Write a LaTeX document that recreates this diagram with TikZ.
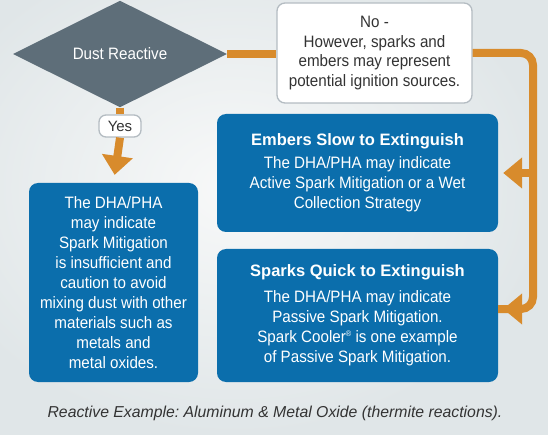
\documentclass[tikz,border=0pt]{standalone}
\usepackage{fontspec}
\setmainfont{Liberation Sans}
\newfontfamily\condf[FakeStretch=0.92]{Liberation Sans}
\usetikzlibrary{shapes.geometric,arrows.meta}
\definecolor{bgin}{HTML}{F8F9F9}
\definecolor{bgout}{HTML}{E0E6E8}
\definecolor{slate}{HTML}{5E6E79}
\definecolor{boxblue}{HTML}{0B6EAC}
\definecolor{orng}{HTML}{D88B2C}
\definecolor{greyline}{HTML}{B4BCC2}
\definecolor{darktext}{HTML}{333333}
\tikzset{
  bluebox/.style={rectangle, rounded corners=9pt, fill=boxblue, text=white, align=center, inner sep=0pt,
    font=\condf\fontsize{16.5}{20}\selectfont},
  whitebox/.style={rectangle, rounded corners=8pt, fill=white, draw=greyline, line width=1.3pt, text=darktext, align=center, inner sep=0pt},
  flow/.style={draw=orng, line width=8pt, rounded corners=12pt},
  bigtip/.style={-{Triangle[width=30pt,length=19pt]}},
}
\frenchspacing
\begin{document}
\begin{tikzpicture}[x=1pt,y=-1pt]
\useasboundingbox (0,0) rectangle (548,435);
\shade[inner color=bgin, outer color=bgout] (-80,-60) rectangle (548,435);

% nodes
\node[diamond, fill=slate, minimum width=214pt, minimum height=94pt, inner sep=0pt, text=white,
      font=\condf\fontsize{16.5}{20}\selectfont] (dust) at (120,54) {Dust Reactive};
\node[whitebox, minimum width=195pt, minimum height=100pt, font=\condf\fontsize{16.5}{19.5}\selectfont]
  (nobox) at (374.5,53) {No -\\However, sparks and\\embers may represent\\potential ignition sources.};
\node[whitebox, minimum width=42pt, minimum height=22pt, rounded corners=7pt, font=\fontsize{15}{18}\selectfont]
  (yes) at (120,126) {Yes};
\node[bluebox, minimum width=169pt, minimum height=199pt] (leftbox) at (113.5,282.5)
  {The DHA/PHA\\may indicate\\Spark Mitigation\\is insufficient and\\caution to avoid\\mixing dust with other\\materials such as\\metals and\\metal oxides.};
\node[bluebox, minimum width=281pt, minimum height=118pt] (embers) at (357.5,173)
  {{\normalfont\bfseries\fontsize{16.5}{20}\selectfont Embers Slow to Extinguish}\\[3pt]
   The DHA/PHA may indicate\\Active Spark Mitigation or a Wet\\Collection Strategy};
\node[bluebox, minimum width=281pt, minimum height=133pt] (sparks) at (357.5,315.5)
  {{\normalfont\bfseries\fontsize{16.5}{20}\selectfont Sparks Quick to Extinguish}\\[6pt]
   The DHA/PHA may indicate\\Passive Spark Mitigation.\\Spark Cooler\raisebox{0.4em}{\fontsize{8}{8}\selectfont\textregistered} is one example\\of Passive Spark Mitigation.};
\node[text=darktext, font=\itshape\fontsize{15.8}{18}\selectfont] (caption) at (275,413)
  {Reactive Example: Aluminum \& Metal Oxide (thermite reactions).};

% connector coordinates
\coordinate (rt) at (533,53);
\coordinate (rm) at (533,173);
\coordinate (rb) at (533,309);

% connectors
\draw[flow] (dust.south) -- (yes.north);
\draw[flow, bigtip, shorten >=8pt] (yes.south) -- (leftbox.north);
\draw[flow] (dust.east) -- (dust.east -| nobox.west);
\draw[flow] (nobox.east) -- (rt) -- (rb) -- (rb -| sparks.east);
\draw[flow, bigtip, shorten >=5pt, rounded corners=0pt] (rb -| 520,0) -- (rb -| sparks.east);
\draw[flow, bigtip, shorten >=5pt] (rm) -- (embers.east);
\end{tikzpicture}
\end{document}
